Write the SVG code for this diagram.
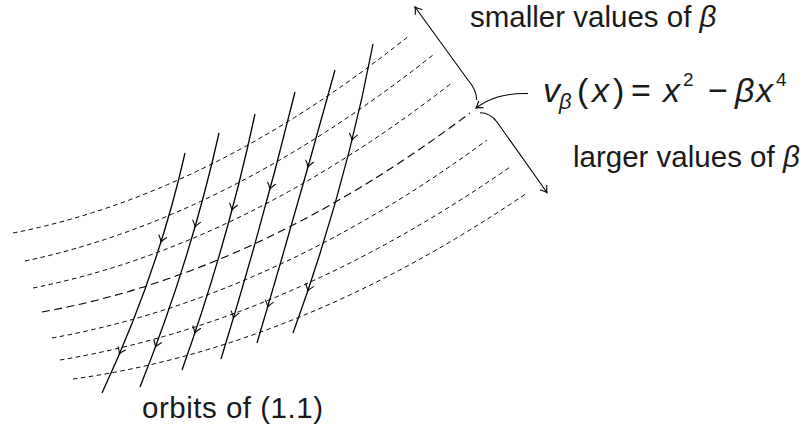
<svg xmlns="http://www.w3.org/2000/svg" xmlns:xlink="http://www.w3.org/1999/xlink" width="805" height="432" viewBox="0 0 805 432">
<style>
.lvl{fill:none;stroke:#000;stroke-width:1;stroke-dasharray:4.5 3.5}
.lvl.main{stroke-dasharray:8 4.5;stroke-width:1.1}
.orb{fill:none;stroke:#000;stroke-width:1.3}
.ah{fill:none;stroke:#000;stroke-width:1.1;stroke-linecap:round}
.con{fill:none;stroke:#000;stroke-width:1.1}
text{font-family:"Liberation Sans",Arial,sans-serif;font-size:29.5px;fill:#1a1a1a}
.it{font-style:italic}
.f{font-size:34px}
.sm{font-size:22px}
.sup{font-size:19px}
</style>
<defs>
<path id="arr" class="ah" d="M-6,-4 Q-2.2,-0.9 0,0 Q-2.2,0.9 -6,4"/>
<marker id="tip" markerUnits="userSpaceOnUse" orient="auto" overflow="visible" markerWidth="12" markerHeight="12" refX="0" refY="0">
<path class="ah" d="M-6,-4 Q-2.2,-0.9 0,0 Q-2.2,0.9 -6,4"/>
</marker>
</defs>

<g id="level-curves">
<path class="lvl" d="M13,233 Q211.5,194.3 410,35"/>
<path class="lvl" d="M25,261 Q225.7,218.8 433,55"/>
<path class="lvl" d="M33,288 Q241.6,246.5 453,82"/>
<path class="lvl main" d="M42,312 Q257.1,273.3 470,113"/>
<path class="lvl" d="M52,338 Q272.6,298 487,140"/>
<path class="lvl" d="M60,360 Q287.2,322 510,167"/>
<path class="lvl" d="M73,379 Q300,347.7 527,193"/>
</g>

<g id="orbits">
<g id="orbit1">
<path class="orb" d="M185,153 Q158,273 102,393"/>
<use xlink:href="#arr" href="#arr" transform="translate(161,242) rotate(107.5)"/>
<use xlink:href="#arr" href="#arr" transform="translate(119.4,354) rotate(113.2)"/>
</g>
<g id="orbit2">
<path class="orb" d="M219,133 Q190.7,260 140,387"/>
<use xlink:href="#arr" href="#arr" transform="translate(195,227) rotate(106.1)"/>
<use xlink:href="#arr" href="#arr" transform="translate(155.5,347) rotate(110.4)"/>
</g>
<g id="orbit3">
<path class="orb" d="M255,114 Q227.8,242 182,370"/>
<use xlink:href="#arr" href="#arr" transform="translate(232,210) rotate(104.9)"/>
<use xlink:href="#arr" href="#arr" transform="translate(194.8,333) rotate(108.6)"/>
</g>
<g id="orbit4">
<path class="orb" d="M295,92 Q262.1,225.5 221,359"/>
<use xlink:href="#arr" href="#arr" transform="translate(270,189) rotate(105.1)"/>
<use xlink:href="#arr" href="#arr" transform="translate(233.4,318) rotate(106.6)"/>
</g>
<g id="orbit5">
<path class="orb" d="M335,70 Q297.5,206.5 257,343"/>
<use xlink:href="#arr" href="#arr" transform="translate(308,167) rotate(105.8)"/>
<use xlink:href="#arr" href="#arr" transform="translate(267.7,307) rotate(106.4)"/>
</g>
<g id="orbit6">
<path class="orb" d="M373,44 Q345.6,188.5 293,333"/>
<use xlink:href="#arr" href="#arr" transform="translate(352,140) rotate(103.9)"/>
<use xlink:href="#arr" href="#arr" transform="translate(307.7,291) rotate(108.7)"/>
</g>
</g>

<g id="connectors">
<path class="con" d="M476.7,100 C476.7,94 474,87 468,80 L415,7" marker-end="url(#tip)"/>
<path class="con" d="M528,93.5 C505,93 490,98 476,108" marker-end="url(#tip)"/>
<path class="con" d="M480,112.7 C487,112.7 492,115 497,122 L547,192.5" marker-end="url(#tip)"/>
</g>

<g id="label-smaller">
<text x="470" y="27">smaller values of <tspan class="it">β</tspan></text>
</g>
<g id="label-formula">
<text class="f" y="102"><tspan class="it" x="543">v</tspan><tspan class="it sm" x="559" y="109">β</tspan><tspan x="577" y="102">(</tspan><tspan class="it" x="592">x</tspan><tspan x="613">)</tspan><tspan x="631">=</tspan><tspan class="it" x="663">x</tspan><tspan class="sup" x="683" y="86">2</tspan><tspan x="708" y="102">−</tspan><tspan class="it" x="735">β</tspan><tspan class="it" x="756">x</tspan><tspan class="sup" x="776" y="86">4</tspan></text>
</g>
<g id="label-larger">
<text x="573" y="167">larger values of <tspan class="it">β</tspan></text>
</g>
<g id="label-orbits">
<text x="142" y="418" textLength="181" lengthAdjust="spacing">orbits of (1.1)</text>
</g>
</svg>
